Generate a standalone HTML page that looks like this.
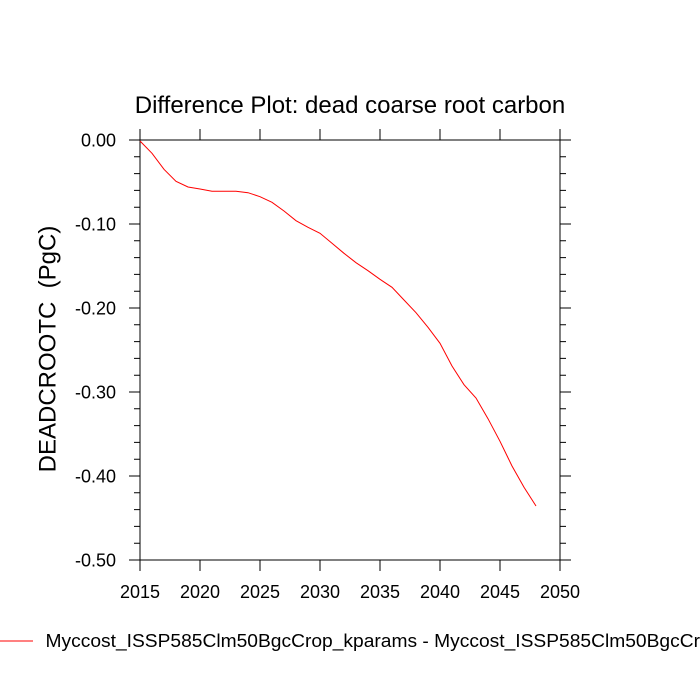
<!DOCTYPE html>
<html><head><meta charset="utf-8"><style>html,body{margin:0;padding:0;background:#fff;}svg{display:block;}</style></head>
<body>
<svg width="700" height="700" viewBox="0 0 700 700" xmlns="http://www.w3.org/2000/svg" font-family="Liberation Sans, Arial, sans-serif">
<rect width="700" height="700" fill="#fff"/>
<text x="350" y="113" font-size="24" text-anchor="middle" fill="#000">Difference Plot: dead coarse root carbon</text>
<g stroke="#000" stroke-width="1" fill="none">
<rect x="140" y="140" width="420" height="420"/>
<path d="M140 560V571M200 560V571M260 560V571M320 560V571M380 560V571M440 560V571M500 560V571M560 560V571
M140 140V129M200 140V129M260 140V129M320 140V129M380 140V129M440 140V129M500 140V129M560 140V129"/>
<path d="M140 140H129M140 224H129M140 308H129M140 392H129M140 476H129M140 560H129
M560 140H571M560 224H571M560 308H571M560 392H571M560 476H571M560 560H571"/>
<path d="M140 156.8H134M140 173.6H134M140 190.4H134M140 207.2H134
M140 240.8H134M140 257.6H134M140 274.4H134M140 291.2H134
M140 324.8H134M140 341.6H134M140 358.4H134M140 375.2H134
M140 408.8H134M140 425.6H134M140 442.4H134M140 459.2H134
M140 492.8H134M140 509.6H134M140 526.4H134M140 543.2H134
M560 156.8H566M560 173.6H566M560 190.4H566M560 207.2H566
M560 240.8H566M560 257.6H566M560 274.4H566M560 291.2H566
M560 324.8H566M560 341.6H566M560 358.4H566M560 375.2H566
M560 408.8H566M560 425.6H566M560 442.4H566M560 459.2H566
M560 492.8H566M560 509.6H566M560 526.4H566M560 543.2H566"/>
</g>
<g font-size="18" fill="#000" text-anchor="end">
<text x="116" y="146.5">0.00</text>
<text x="116" y="230.5">-0.10</text>
<text x="116" y="314.5">-0.20</text>
<text x="116" y="398.5">-0.30</text>
<text x="116" y="482.5">-0.40</text>
<text x="116" y="566.5">-0.50</text>
</g>
<g font-size="18" fill="#000" text-anchor="middle">
<text x="140" y="598">2015</text>
<text x="200" y="598">2020</text>
<text x="260" y="598">2025</text>
<text x="320" y="598">2030</text>
<text x="380" y="598">2035</text>
<text x="440" y="598">2040</text>
<text x="500" y="598">2045</text>
<text x="560" y="598">2050</text>
</g>
<text transform="translate(55.5,349) rotate(-90)" font-size="24" text-anchor="middle" fill="#000" xml:space="preserve">DEADCROOTC  (PgC)</text>
<polyline fill="none" stroke="#ff0000" stroke-width="1" points="140,141 152,153.3 164,169.3 176,181.3 188,187 200,189 212,191.3 224,191.3 236,191.3 248,192.7 260,196.7 272,202.3 284,211 296,220.7 308,227.3 320,233.3 332,243.3 344,253.3 356,262.7 368,270.7 380,279.3 392,287.3 404,300 416,312.7 428,327.3 440,343.3 452,366 464,384.7 476,398 488,418.7 500,441.3 512,466 524,487.3 536,506"/>
<line x1="0" y1="641" x2="33" y2="641" stroke="#ff0000" stroke-width="1"/>
<g transform="translate(45.5,647) scale(1.068,1)">
<text x="0" y="0" font-size="18" fill="#000">Myccost_ISSP585Clm50BgcCrop_kparams - Myccost_ISSP585Clm50BgcCrop</text>
</g>
</svg>
</body></html>
